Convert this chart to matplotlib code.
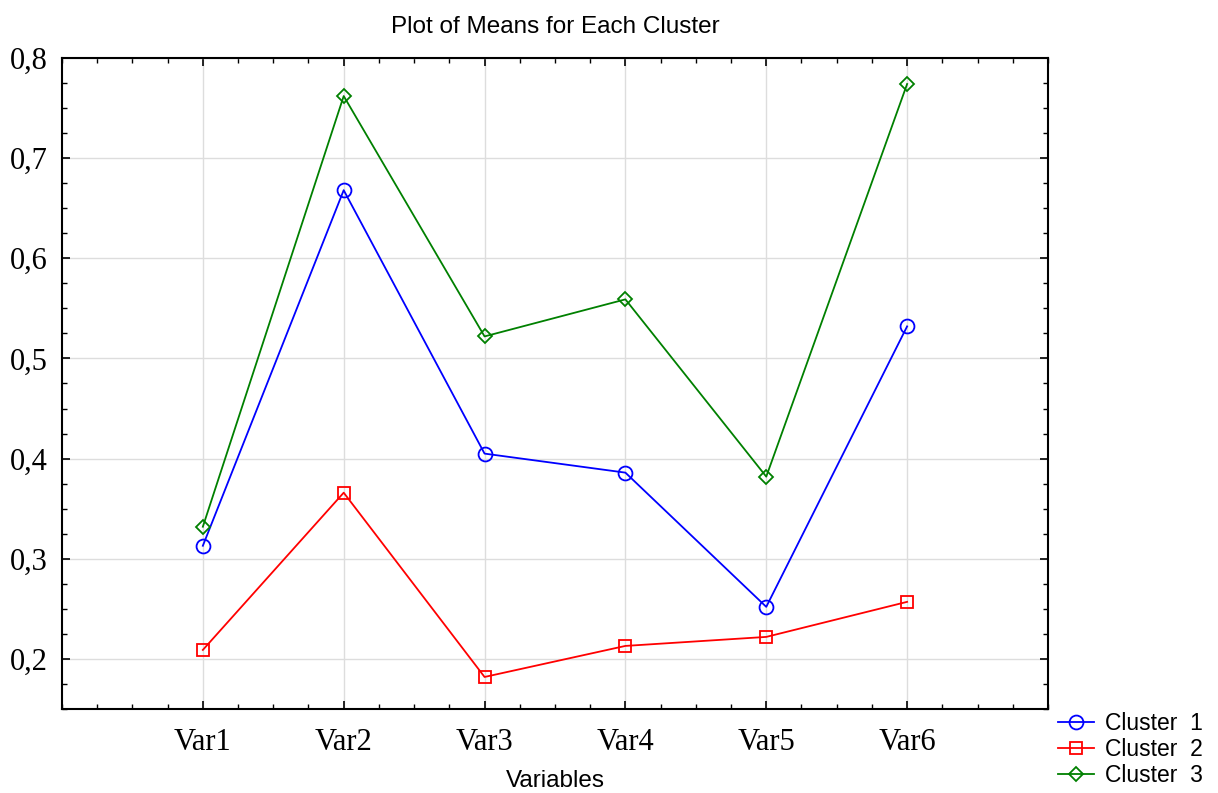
import matplotlib
matplotlib.use("Agg")
import matplotlib.pyplot as plt
from matplotlib.ticker import MultipleLocator, FixedLocator, FuncFormatter

variables = ["Var1", "Var2", "Var3", "Var4", "Var5", "Var6"]
cluster1 = [0.313, 0.668, 0.405, 0.386, 0.252, 0.532]
cluster2 = [0.209, 0.366, 0.182, 0.213, 0.222, 0.257]
cluster3 = [0.332, 0.762, 0.522, 0.559, 0.382, 0.774]
series_names = ["Cluster  1", "Cluster  2", "Cluster  3"]

fig = plt.figure(figsize=(12.18, 7.93), dpi=100)
ax = fig.add_axes([0.0509, 0.1059, 0.8095, 0.8210])

xpos = list(range(1, len(variables) + 1))
styles = [("blue", "o", 10), ("red", "s", 9), ("green", "D", 7)]
for vals, name, (c, m, ms) in zip([cluster1, cluster2, cluster3], series_names, styles):
    ax.plot(xpos, vals, color=c, marker=m, markersize=ms, markerfacecolor="none",
            markeredgecolor=c, markeredgewidth=1.3, linewidth=1.3, label=name)

ax.set_xlim(0, len(variables) + 1)
ax.set_ylim(0.15, 0.8)
ax.xaxis.set_major_locator(FixedLocator(xpos))
ax.set_xticklabels(variables, fontfamily="Liberation Serif", fontsize=22)
ax.xaxis.set_minor_locator(MultipleLocator(0.25))
ax.yaxis.set_major_locator(FixedLocator([0.2, 0.3, 0.4, 0.5, 0.6, 0.7, 0.8]))
ax.yaxis.set_minor_locator(MultipleLocator(0.025))
ax.yaxis.set_major_formatter(FuncFormatter(lambda v, p: f"{v:.1f}".replace(".", ",")))
for lab in ax.get_yticklabels():
    lab.set_fontfamily("Liberation Serif")
    lab.set_fontsize(22)

ax.tick_params(which="both", direction="in", top=True, right=True, color="black")
ax.tick_params(which="major", length=6, width=1.2)
ax.tick_params(axis="y", which="major", pad=10)
ax.tick_params(axis="x", which="major", pad=14)
ax.tick_params(which="minor", length=3.5, width=1.0)
ax.grid(True, which="major", color="#dddddd", linewidth=1.0)
ax.set_axisbelow(True)
for s in ax.spines.values():
    s.set_linewidth(1.5)
    s.set_color("black")

ax.set_title("Plot of Means for Each Cluster", fontfamily="Liberation Sans", fontsize=17.5, pad=18)
ax.set_xlabel("Variables", fontfamily="Liberation Sans", fontsize=17.5, labelpad=9)

fig.legend(loc="upper left", bbox_to_anchor=(0.857, 0.12), frameon=False,
           prop={"family": "Liberation Sans", "size": 16.5}, handlelength=1.6,
           handletextpad=0.45, labelspacing=0.15, borderpad=0.1)

fig.savefig("out.png", dpi=100)
